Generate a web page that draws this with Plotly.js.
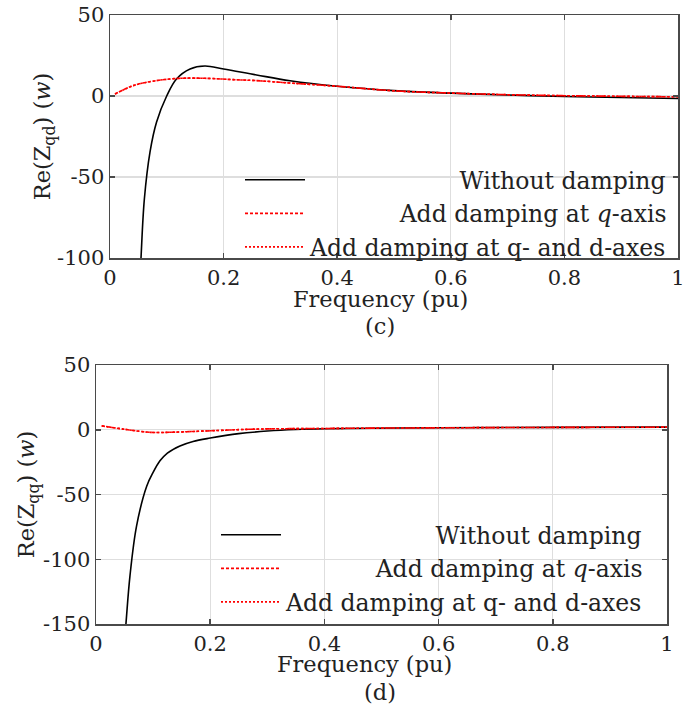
<!DOCTYPE html>
<html>
<head>
<meta charset="utf-8">
<script src="https://cdn.plot.ly/plotly-3.0.1.min.js"></script>
<style>html,body{margin:0;padding:0;background:#fff;}#chart{width:683px;height:707px;}</style>
</head>
<body>
<div id="chart"></div>
<script>
// ---- Data ----
const seriesNames = ["Without damping", "Add damping at <i>q</i>-axis", "Add damping at q- and d-axes"];
const seriesNamesPlain = ["Without damping", "Add damping at q-axis", "Add damping at q- and d-axes"];
const xTitle = "Frequency (pu)";
const panelLabels = ["(c)", "(d)"];

// Panel (c): Re(Zqd)
const freqC_none = [0.050, 0.0546, 0.0605, 0.0704, 0.082, 0.0998, 0.117, 0.141, 0.167, 0.2, 0.258, 0.317, 0.4, 0.5, 0.6, 0.7, 0.8, 0.9, 1.0];
const reZqd_none = [-135, -100, -63.6, -34.6, -16, 0, 10.5, 16.7, 18.5, 16.7, 13, 9.4, 6, 3.3, 1.8, 0.6, -0.3, -0.9, -1.5];
const freqC_damp = [0.0088, 0.041, 0.082, 0.123, 0.17, 0.217, 0.258, 0.317, 0.4, 0.5, 0.6, 0.7, 0.8, 0.9, 1.0];
const reZqd_q    = [1.2, 6.4, 9.5, 10.9, 10.9, 10.1, 9.5, 8, 6, 3.2, 1.8, 0.8, 0.2, -0.2, -0.5];
const reZqd_qd   = [1.2, 6.4, 9.5, 10.9, 10.9, 10.1, 9.5, 8, 6, 3.2, 1.8, 0.8, 0.2, -0.2, -0.5];

// Panel (d): Re(Zqq)
const freqD_none = [0.048, 0.0525, 0.0595, 0.071, 0.0888, 0.1, 0.112, 0.125, 0.147, 0.17, 0.2, 0.25, 0.3, 0.35, 0.4, 0.6, 0.8, 1.0];
const reZqq_none = [-175, -149.5, -112.8, -74.4, -43.6, -33, -24, -18, -12.5, -9, -6.4, -3, -1, 0.2, 0.8, 1.5, 1.8, 2];
const freqD_damp = [0.01, 0.048, 0.095, 0.141, 0.2, 0.28, 0.4, 0.6, 0.8, 1.0];
const reZqq_q    = [3, 0.5, -2, -1.8, -0.8, 0.5, 1, 1.5, 1.8, 2];
const reZqq_qd   = [3, 0.5, -2, -1.8, -0.8, 0.5, 1, 1.5, 1.8, 2];

const xTicks = [0, 0.2, 0.4, 0.6, 0.8, 1];
const xTickText = ["0", "0.2", "0.4", "0.6", "0.8", "1"];
const yTicksC = [-100, -50, 0, 50];
const yTickTextC = ["-100", "-50", "0", "50"];
const yTicksD = [-150, -100, -50, 0, 50];
const yTickTextD = ["-150", "-100", "-50", "0", "50"];

// ---- Styling ----
const FONT = "DejaVu Serif";
const TICK_SIZE = 21, TITLE_SIZE = 22.5, LEG_SIZE = 23.5;
const W = 683, H = 707;

// right-align legend texts by padding with no-break spaces
function padNames(names, plain, size) {
  const c = document.createElement("canvas").getContext("2d");
  c.font = size + "px '" + FONT + "'";
  const ws = plain.map(t => c.measureText(t).width);
  const sp = c.measureText("\u00A0").width;
  const mx = Math.max(...ws);
  return names.map((n, i) => "\u00A0".repeat(Math.round((mx - ws[i]) / sp)) + n);
}
const legNames = padNames(seriesNames, seriesNamesPlain, LEG_SIZE);

function axisBase() {
  return {
    showline: true, mirror: "allticks", linecolor: "#4a4a4a", linewidth: 1.5,
    ticks: "inside", ticklen: 5, tickcolor: "#4a4a4a", tickwidth: 1.5,
    showgrid: true, gridcolor: "#dedede", gridwidth: 1.2, zeroline: false,
    ticklabeloverflow: "allow",
    tickfont: {family: FONT, size: TICK_SIZE, color: "#222"}
  };
}

const redStyle1 = {color: "#ff0000", width: 1.6, dash: "3px,2px"};
const redStyle2 = {color: "#ff0000", width: 1.6, dash: "2px,2px"};
const blackStyle = {color: "#000000", width: 1.6};
const sp = {shape: "spline", smoothing: 1};

const traces = [
  {x: freqC_none, y: reZqd_none, name: legNames[0], mode: "lines", line: Object.assign({}, sp, blackStyle), xaxis: "x", yaxis: "y", legend: "legend"},
  {x: freqC_damp, y: reZqd_q, name: legNames[1], mode: "lines", line: Object.assign({}, sp, redStyle1), xaxis: "x", yaxis: "y", legend: "legend"},
  {x: freqC_damp, y: reZqd_qd, name: legNames[2], mode: "lines", line: Object.assign({}, sp, redStyle2), xaxis: "x", yaxis: "y", legend: "legend"},
  {x: freqD_none, y: reZqq_none, name: legNames[0], mode: "lines", line: Object.assign({}, sp, blackStyle), xaxis: "x2", yaxis: "y2", legend: "legend2"},
  {x: freqD_damp, y: reZqq_q, name: legNames[1], mode: "lines", line: Object.assign({}, sp, redStyle1), xaxis: "x2", yaxis: "y2", legend: "legend2"},
  {x: freqD_damp, y: reZqq_qd, name: legNames[2], mode: "lines", line: Object.assign({}, sp, redStyle2), xaxis: "x2", yaxis: "y2", legend: "legend2"}
];

const titleFont = {family: FONT, size: TITLE_SIZE, color: "#222"};

function lbl(text, xpx, ypx) {
  return {text: text, xref: "paper", yref: "paper", x: xpx / W, y: 1 - ypx / H,
          xanchor: "center", yanchor: "middle", showarrow: false, font: titleFont};
}

const layout = {
  width: W, height: H,
  margin: {l: 0, r: 0, t: 0, b: 0},
  paper_bgcolor: "#fff", plot_bgcolor: "#fff",
  showlegend: true,
  xaxis: Object.assign(axisBase(), {
    domain: [110 / W, 678 / W], range: [0, 1], tickvals: xTicks, ticktext: xTickText, anchor: "y"
  }),
  yaxis: Object.assign(axisBase(), {
    domain: [1 - 258 / H, 1 - 15 / H], range: [-100, 50], tickvals: yTicksC, ticktext: yTickTextC, anchor: "x",
    title: {text: "Re(Z<sub>qd</sub>) (<i>w</i>)", font: titleFont, standoff: 0}
  }),
  xaxis2: Object.assign(axisBase(), {
    domain: [96 / W, 667 / W], range: [0, 1], tickvals: xTicks, ticktext: xTickText, anchor: "y2"
  }),
  yaxis2: Object.assign(axisBase(), {
    domain: [1 - 624 / H, 1 - 365 / H], range: [-150, 50], tickvals: yTicksD, ticktext: yTickTextD, anchor: "x2",
    title: {text: "Re(Z<sub>qq</sub>) (<i>w</i>)", font: titleFont, standoff: 0}
  }),
  legend: {
    x: 240 / W, y: 1 - 158 / H, xanchor: "left", yanchor: "top",
    bgcolor: "rgba(255,255,255,0)", borderwidth: 0, itemwidth: 60,
    font: {family: FONT, size: LEG_SIZE, color: "#222"}, tracegroupgap: 0
  },
  legend2: {
    x: 216 / W, y: 1 - 513 / H, xanchor: "left", yanchor: "top",
    bgcolor: "rgba(255,255,255,0)", borderwidth: 0, itemwidth: 60,
    font: {family: FONT, size: LEG_SIZE, color: "#222"}, tracegroupgap: 0
  },
  annotations: [
    lbl(xTitle, 380, 299),
    lbl(panelLabels[0], 380, 326),
    lbl(xTitle, 364, 664),
    lbl(panelLabels[1], 380, 692)
  ]
};

Plotly.newPlot("chart", traces, layout, {displayModeBar: false, staticPlot: true});
</script>
</body>
</html>
